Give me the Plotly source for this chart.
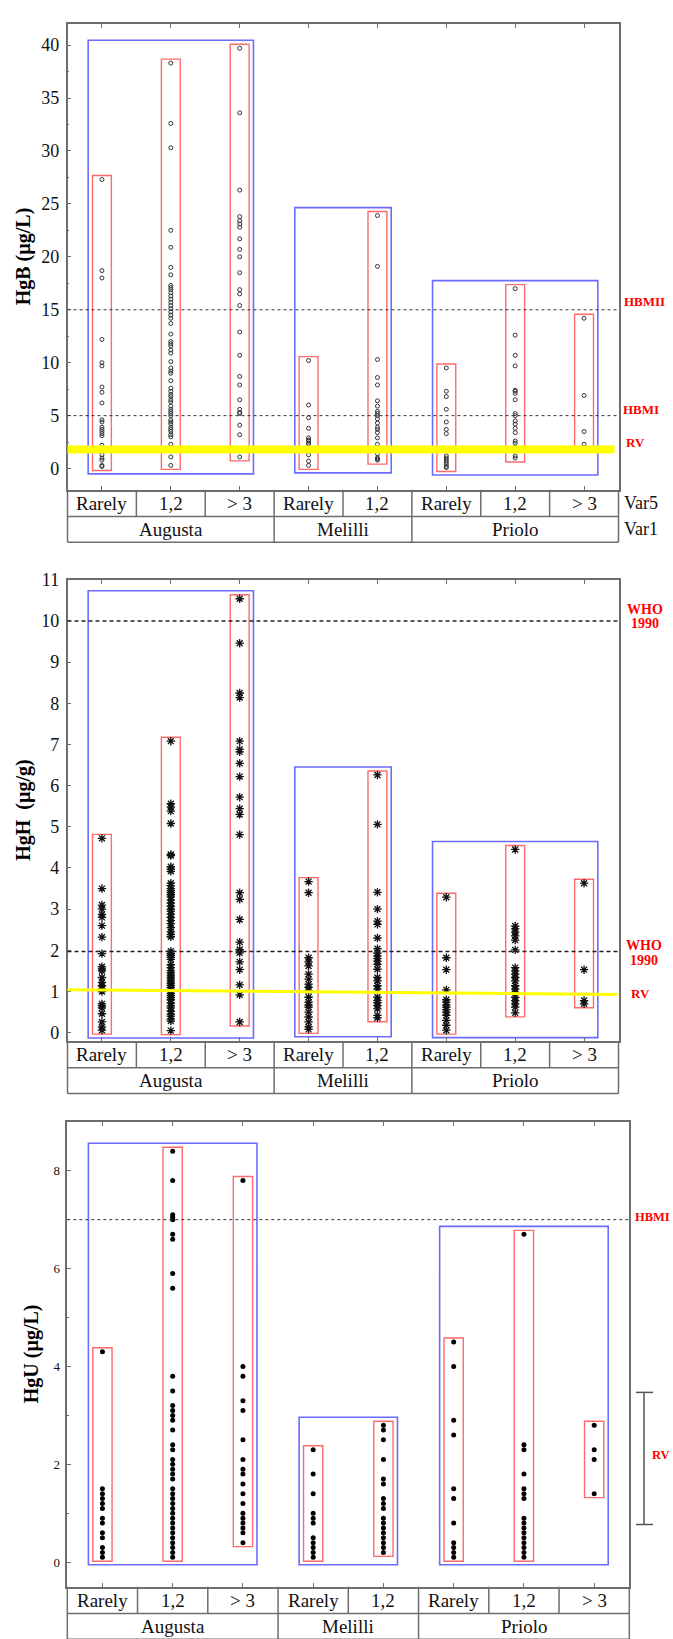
import plotly.graph_objects as go

W, H = 673, 1639
SERIF = "Liberation Serif"

# ---------------------------------------------------------------- data
groups = ["Augusta", "Melilli", "Priolo"]
group_freqs = [["Rarely", "1,2", "> 3"], ["Rarely", "1,2"], ["Rarely", "1,2", "> 3"]]

# HgB (µg/L) – blood mercury, one list per Var1 x Var5 cell
hgb_aug_rarely = [27.3, 18.7, 18.0, 12.2, 10.0, 9.7, 7.7, 7.2, 6.2, 4.6, 4.4, 3.9, 3.7, 3.5,
                  3.3, 3.1, 2.2, 1.3, 1.0, 0.8, 0.3, 0.2]
hgb_aug_12 = [38.3, 32.6, 30.3, 22.5, 20.9, 19.0, 18.3, 17.3, 17.1, 16.9, 16.6, 16.3, 16.0,
              15.7, 15.4, 15.1, 14.8, 14.5, 14.2, 13.7, 12.7, 12.0, 11.8, 11.6, 11.2, 10.9,
              10.1, 9.5, 9.2, 9.0, 8.3, 7.6, 7.3, 7.0, 6.8, 6.5, 6.3, 5.9, 5.6, 5.4, 5.2, 5.0,
              4.6, 4.4, 4.2, 3.9, 3.7, 3.5, 3.2, 3.0, 2.3, 1.7, 1.1, 0.3]
hgb_aug_3 = [39.7, 33.6, 26.3, 23.8, 23.4, 23.1, 22.8, 21.7, 20.7, 20.0, 18.5, 16.9, 16.5,
             15.4, 12.9, 10.7, 8.7, 7.9, 6.5, 5.6, 5.3, 5.2, 4.1, 3.2, 1.1]
hgb_mel_rarely = [10.2, 6.0, 4.8, 3.8, 2.9, 2.7, 2.6, 2.4, 2.3, 1.7, 1.3, 0.7, 0.3]
hgb_mel_12 = [23.9, 19.1, 10.3, 8.6, 7.9, 6.4, 5.9, 5.4, 5.2, 5.0, 4.7, 4.3, 3.9, 3.7, 3.4,
              2.9, 2.3, 1.9, 1.4, 1.0, 0.9, 0.8]
hgb_pri_rarely = [9.5, 7.3, 6.8, 5.6, 4.4, 3.7, 3.3, 1.2, 1.0, 0.8, 0.6, 0.4, 0.2, 0.1]
hgb_pri_12 = [17.0, 12.6, 10.7, 9.7, 7.4, 7.3, 7.1, 6.5, 5.2, 5.0, 4.5, 4.2, 3.8, 3.4, 2.6,
              2.4, 2.0, 1.8, 1.2, 1.0]
hgb_pri_3 = [14.2, 6.9, 3.5, 2.3]

# HgH (µg/g) – hair mercury
hgh_aug_rarely = [4.72, 3.5, 3.1, 3.0, 2.87, 2.8, 2.6, 2.32, 1.92, 1.6, 1.55, 1.5, 1.34, 1.22,
                  1.14, 1.06, 1.0, 0.7, 0.65, 0.6, 0.46, 0.26, 0.14, 0.06]
hgh_aug_12 = [7.08, 5.56, 5.48, 5.38, 5.08, 4.33, 4.3, 4.03, 3.97, 3.92, 3.63, 3.57, 3.5,
              3.45, 3.4, 3.35, 3.3, 3.22, 3.15, 3.07, 3.0, 2.95, 2.88, 2.8, 2.72, 2.65, 2.55,
              2.45, 2.38, 2.33, 1.98, 1.92, 1.88, 1.83, 1.78, 1.65, 1.58, 1.5, 1.45, 1.4,
              1.35, 1.3, 1.25, 1.2, 1.15, 1.1, 1.05, 1.0, 0.95, 0.9, 0.85, 0.8, 0.72, 0.65,
              0.6, 0.52, 0.45, 0.4, 0.33, 0.28, 0.05]
hgh_aug_3 = [10.54, 9.46, 8.25, 8.14, 7.08, 6.88, 6.82, 6.54, 6.22, 5.72, 5.44, 5.3, 4.81,
             3.4, 3.24, 2.75, 2.2, 2.02, 1.94, 1.72, 1.53, 1.16, 0.92, 0.26]
hgh_mel_rarely = [3.67, 3.4, 1.82, 1.72, 1.62, 1.42, 1.3, 1.18, 1.1, 1.02, 0.86, 0.74, 0.67,
                  0.62, 0.5, 0.38, 0.26, 0.14, 0.08]
hgh_mel_12 = [6.26, 5.06, 3.41, 3.0, 2.71, 2.63, 2.3, 2.04, 1.94, 1.86, 1.8, 1.74, 1.66, 1.54,
              1.34, 1.26, 1.14, 1.06, 0.86, 0.78, 0.73, 0.66, 0.58, 0.42, 0.36]
hgh_pri_rarely = [3.29, 1.82, 1.53, 1.04, 0.8, 0.74, 0.67, 0.62, 0.56, 0.5, 0.42, 0.3, 0.18,
                  0.06]
hgh_pri_12 = [4.45, 2.59, 2.52, 2.44, 2.35, 2.25, 2.01, 1.58, 1.5, 1.42, 1.34, 1.26, 1.14,
              1.06, 0.98, 0.86, 0.78, 0.7, 0.62, 0.48]
hgh_pri_3 = [3.63, 1.53, 0.78, 0.7]

# HgU (µg/L) – urinary mercury
hgu_aug_rarely = [4.3, 1.5, 1.4, 1.3, 1.2, 1.1, 0.9, 0.8, 0.6, 0.5, 0.3, 0.2, 0.1]
hgu_aug_12 = [8.4, 7.8, 7.1, 7.05, 7.0, 6.7, 6.6, 5.9, 5.6, 3.8, 3.5, 3.2, 3.1, 3.0, 2.9, 2.7,
              2.4, 2.3, 2.1, 2.0, 1.9, 1.8, 1.7, 1.5, 1.4, 1.3, 1.2, 1.1, 1.0, 0.9, 0.8, 0.7,
              0.6, 0.5, 0.4, 0.3, 0.2, 0.1]
hgu_aug_3 = [7.8, 4.0, 3.8, 3.3, 3.1, 2.5, 2.1, 1.9, 1.8, 1.6, 1.4, 1.2, 1.0, 0.9, 0.8, 0.7,
             0.6, 0.4]
hgu_mel_rarely = [2.3, 1.8, 1.4, 1.0, 0.9, 0.8, 0.5, 0.4, 0.3, 0.2, 0.1]
hgu_mel_12 = [2.8, 2.7, 2.5, 2.1, 1.7, 1.6, 1.3, 1.2, 1.1, 0.9, 0.8, 0.7, 0.6, 0.5, 0.4, 0.3,
              0.2]
hgu_pri_rarely = [4.5, 4.0, 2.9, 2.6, 1.5, 1.3, 0.8, 0.4, 0.3, 0.2, 0.1]
hgu_pri_12 = [6.7, 2.4, 2.3, 1.8, 1.5, 1.4, 1.3, 0.9, 0.8, 0.7, 0.6, 0.5, 0.4, 0.3, 0.2, 0.1]
hgu_pri_3 = [2.8, 2.3, 2.1, 1.4]

hgb_cells = [hgb_aug_rarely, hgb_aug_12, hgb_aug_3, hgb_mel_rarely, hgb_mel_12,
             hgb_pri_rarely, hgb_pri_12, hgb_pri_3]
hgh_cells = [hgh_aug_rarely, hgh_aug_12, hgh_aug_3, hgh_mel_rarely, hgh_mel_12,
             hgh_pri_rarely, hgh_pri_12, hgh_pri_3]
hgu_cells = [hgu_aug_rarely, hgu_aug_12, hgu_aug_3, hgu_mel_rarely, hgu_mel_12,
             hgu_pri_rarely, hgu_pri_12, hgu_pri_3]

# reference values
hgb_hbmii = 15
hgb_hbmi = 5
hgb_rv = 1.8
hgh_who = [10.0, 1.97]
hgh_rv_ends = [1.045, 0.925]
hgu_hbmi = 7.0
hgu_rv_range = [0.77, 3.47]

# ---------------------------------------------------------------- layout helpers
def px(xp):
    return xp / W


def py(yp):
    return 1 - yp / H


panels = [
    dict(cells=hgb_cells, x0=67.5, x1=618.5, top=14, bottom=483.3, yr=[-2, 42], dtick=5,
         minor=2.5, tfs=18, title="HgB (µg/L)",
         marker=dict(symbol="circle-open", size=4, color="#333",
                     line=dict(width=1, color="#333"))),
    dict(cells=hgh_cells, x0=67.5, x1=618.5, top=574, bottom=1038.5, yr=[-0.2, 11], dtick=1,
         minor=None, tfs=18, title="HgH  (µg/g)",
         marker=dict(symbol="asterisk-open", size=7, color="#111",
                     line=dict(width=1.3, color="#111"))),
    dict(cells=hgu_cells, x0=67.3, x1=629.3, top=1120, bottom=1588.3, yr=[-0.5, 9], dtick=2,
         minor=1, tfs=13, title="HgU (µg/L)",
         marker=dict(symbol="circle", size=5, color="#000")),
]

# category index of each cell and its group
cell_group = []
for g, freqs in enumerate(group_freqs):
    cell_group += [g] * len(freqs)
cell_labels = [f for freqs in group_freqs for f in freqs]
n_cells = len(cell_labels)

ROW1, ROW2 = 27, 26
FRAME = "#6e6e6e"
BLUE = "#6b6bff"
RED = "#ff6a6a"

fig = go.Figure()
shapes = []
annotations = []

for k, p in enumerate(panels, start=1):
    xa = "x" if k == 1 else f"x{k}"
    ya = "y" if k == 1 else f"y{k}"
    xkey = "xaxis" if k == 1 else f"xaxis{k}"
    ykey = "yaxis" if k == 1 else f"yaxis{k}"

    xs, ys = [], []
    for i, vals in enumerate(p["cells"]):
        xs += [i] * len(vals)
        ys += vals
    fig.add_trace(go.Scatter(x=xs, y=ys, mode="markers", marker=p["marker"],
                             xaxis=xa, yaxis=ya, showlegend=False, hoverinfo="y"))

    ppu = (p["bottom"] - p["top"]) / (p["yr"][1] - p["yr"][0])
    red_pad = 4 / ppu

    # per-cell red boxes
    for i, vals in enumerate(p["cells"]):
        shapes.append(dict(type="rect", xref=xa, yref=ya, x0=i - 0.137, x1=i + 0.137,
                           y0=min(vals) - red_pad, y1=max(vals) + red_pad,
                           line=dict(color=RED, width=1.4), layer="below"))
    # per-site blue boxes
    for g in range(len(groups)):
        idx = [i for i in range(n_cells) if cell_group[i] == g]
        allv = [v for i in idx for v in p["cells"][i]]
        shapes.append(dict(type="rect", xref=xa, yref=ya, x0=idx[0] - 0.2, x1=idx[-1] + 0.2,
                           y0=min(allv) - 7.5 / ppu, y1=max(allv) + 8 / ppu,
                           line=dict(color=BLUE, width=1.6), layer="below"))

    fig.layout[xkey] = dict(
        domain=[px(p["x0"]), px(p["x1"])], anchor=ya, range=[-0.5, n_cells - 0.5],
        tickvals=list(range(n_cells)), showticklabels=False, ticks="inside", ticklen=4,
        tickcolor=FRAME, showline=True, linecolor=FRAME, linewidth=1.5, mirror="ticks",
        showgrid=False, zeroline=False, fixedrange=True)
    ydict = dict(
        domain=[py(p["bottom"]), py(p["top"])], anchor=xa, range=p["yr"], dtick=p["dtick"],
        tick0=0, ticks="inside", ticklen=4, tickcolor=FRAME, showline=True, linecolor=FRAME,
        linewidth=1.5, mirror=True, showgrid=False, zeroline=False,
        tickfont=dict(family=SERIF, size=p["tfs"], color="#111"), ticklabelstandoff=3)
    if p["minor"]:
        ydict["minor"] = dict(dtick=p["minor"], tick0=0, ticks="inside", ticklen=2,
                              tickcolor=FRAME, showgrid=False)
    fig.layout[ykey] = ydict

    # y-axis title
    annotations.append(dict(text=f"<b>{p['title']}</b>", xref="paper", yref="paper",
                            x=px(23.5 if k < 3 else 31), y=py((p["top"] + p["bottom"]) / 2),
                            textangle=-90, showarrow=False, xanchor="center", yanchor="middle",
                            font=dict(family=SERIF, size=20, color="#000")))

    # category table under the plot
    t0 = p["bottom"]
    t1 = t0 + ROW1
    t2 = t1 + ROW2
    line = dict(color=FRAME, width=1.5)
    shapes.append(dict(type="line", xref="paper", yref="paper", x0=px(p["x0"]), x1=px(p["x0"]),
                       y0=py(t0), y1=py(t2), line=line))
    shapes.append(dict(type="line", xref="paper", yref="paper", x0=px(p["x1"]), x1=px(p["x1"]),
                       y0=py(t0), y1=py(t2), line=line))
    shapes.append(dict(type="line", xref="paper", yref="paper", x0=px(p["x0"]), x1=px(p["x1"]),
                       y0=py(t1), y1=py(t1), line=line))
    shapes.append(dict(type="line", xref="paper", yref="paper", x0=px(p["x0"]), x1=px(p["x1"]),
                       y0=py(t2), y1=py(t2), line=line))
    for i in range(1, n_cells):
        bottom = t2 if cell_group[i] != cell_group[i - 1] else t1
        shapes.append(dict(type="line", xref=xa, yref="paper", x0=i - 0.5, x1=i - 0.5,
                           y0=py(t0), y1=py(bottom), line=line))
    for i, lab in enumerate(cell_labels):
        annotations.append(dict(text=lab, xref=xa, yref="paper", x=i, y=py((t0 + t1) / 2),
                                showarrow=False, xanchor="center", yanchor="middle",
                                font=dict(family=SERIF, size=19, color="#111")))
    for g, name in enumerate(groups):
        idx = [i for i in range(n_cells) if cell_group[i] == g]
        annotations.append(dict(text=name, xref=xa, yref="paper", x=(idx[0] + idx[-1]) / 2,
                                y=py((t1 + t2) / 2), showarrow=False, xanchor="center",
                                yanchor="middle",
                                font=dict(family=SERIF, size=19, color="#111")))
    if k == 1:
        for txt, yy in (("Var5", (t0 + t1) / 2), ("Var1", (t1 + t2) / 2)):
            annotations.append(dict(text=txt, xref="paper", yref="paper", x=px(622), y=py(yy),
                                    showarrow=False, xanchor="left", yanchor="middle",
                                    font=dict(family=SERIF, size=18, color="#111")))


def red_label(text, xc, yc, size=13):
    annotations.append(dict(text=f"<b>{text}</b>", xref="paper", yref="paper", x=px(xc),
                            y=py(yc), showarrow=False, xanchor="center", yanchor="middle",
                            font=dict(family=SERIF, size=size, color="#ff0000")))


# ---- HgB reference lines
for v in (hgb_hbmii, hgb_hbmi):
    shapes.append(dict(type="line", xref="paper", yref="y", x0=px(67.5), x1=px(618.5),
                       y0=v, y1=v, line=dict(color="#333", width=1, dash="dot"), layer="above"))
shapes.append(dict(type="line", xref="paper", yref="y", x0=px(67.5), x1=px(614.5),
                   y0=hgb_rv, y1=hgb_rv, line=dict(color="#ffff00", width=8), layer="above"))
red_label("HBMII", 644.5, 293.5)
red_label("HBMI", 641, 402.5)
red_label("RV", 635.5, 436)

# ---- HgH reference lines
for v in hgh_who:
    shapes.append(dict(type="line", xref="paper", yref="y2", x0=px(67.5), x1=px(618.5),
                       y0=v, y1=v, line=dict(color="#222", width=1.5, dash="4px,3px"),
                       layer="above"))
shapes.append(dict(type="line", xref="paper", yref="y2", x0=px(67.5), x1=px(617),
                   y0=hgh_rv_ends[0], y1=hgh_rv_ends[1], line=dict(color="#ffff00", width=3),
                   layer="above"))
red_label("WHO", 645, 603.5, 14)
red_label("1990", 645, 618.5, 14)
red_label("WHO", 643.5, 942.5, 14)
red_label("1990", 643.5, 957.5, 14)
red_label("RV", 640.5, 990.5, 13)

# ---- HgU reference lines
shapes.append(dict(type="line", xref="paper", yref="y3", x0=px(67.3), x1=px(629.3),
                   y0=hgu_hbmi, y1=hgu_hbmi, line=dict(color="#333", width=1, dash="dot"),
                   layer="above"))
bar = dict(color="#555", width=1.5)
shapes.append(dict(type="line", xref="paper", yref="y3", x0=px(644), x1=px(644),
                   y0=hgu_rv_range[0], y1=hgu_rv_range[1], line=bar))
for v in hgu_rv_range:
    shapes.append(dict(type="line", xref="paper", yref="y3", x0=px(636), x1=px(653),
                       y0=v, y1=v, line=bar))
red_label("HBMI", 652.5, 1216, 12.5)
red_label("RV", 660.5, 1456, 12.5)

fig.update_layout(width=W, height=H, margin=dict(l=0, r=0, t=0, b=0),
                  paper_bgcolor="white", plot_bgcolor="white", showlegend=False,
                  shapes=shapes, annotations=annotations)

fig.write_html("out.html")
